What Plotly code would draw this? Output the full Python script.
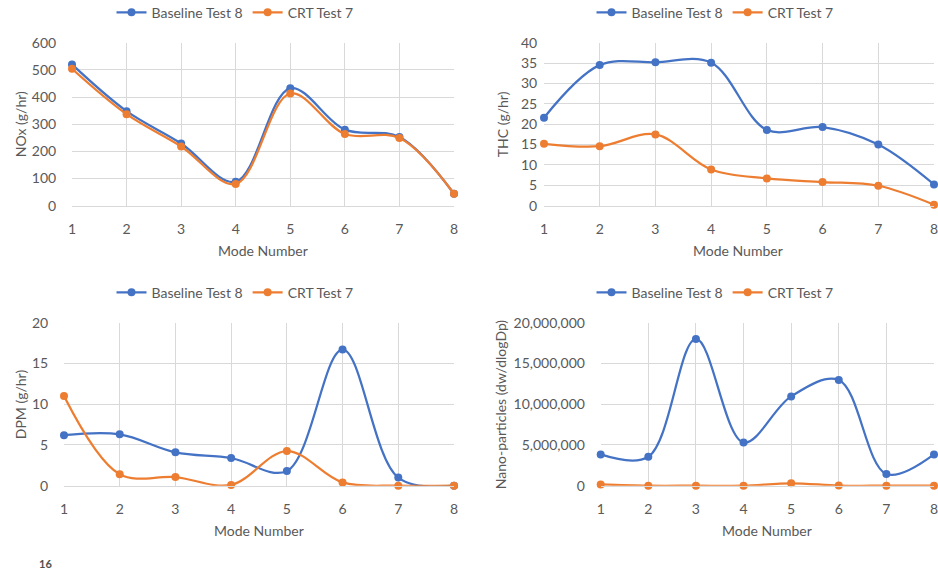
import plotly.graph_objects as go

modes = [1, 2, 3, 4, 5, 6, 7, 8]

nox_baseline = [520, 348, 229, 88, 432, 280, 253, 44]
nox_crt = [504, 337, 218, 80, 413, 264, 249, 44]

thc_baseline = [21.6, 34.5, 35.2, 35.1, 18.6, 19.3, 15.0, 5.2]
thc_crt = [15.2, 14.6, 17.5, 8.9, 6.7, 5.8, 4.9, 0.25]

dpm_baseline = [6.2, 6.3, 4.1, 3.4, 1.8, 16.7, 1.0, 0.0]
dpm_crt = [11.0, 1.4, 1.06, 0.1, 4.25, 0.4, 0.0, 0.0]

nano_baseline = [3840000, 3560000, 18000000, 5300000, 10960000, 12970000, 1430000, 3840000]
nano_crt = [150000, 0, 0, 0, 300000, 20000, 0, 0]

series_names = ["Baseline Test 8", "CRT Test 7"]
colors = ["#4472C4", "#ED7D31"]

FONT = "Lato"
GREY = "#595959"
GRID = "#D9D9D9"
W, H = 938, 584

# pixel boxes of each plot area: (left, right, top, bottom)
panels = [
    dict(box=(72, 454, 42.7, 205.7), data=(nox_baseline, nox_crt), yr=[0, 600], dt=100,
         fmt="", ytitle="NOx (g/hr)", ytx=20, xtx=263, xty=250, leg=(235, 12.7), ylen=12),
    dict(box=(544, 934, 42.7, 205.7), data=(thc_baseline, thc_crt), yr=[0, 40], dt=5,
         fmt="", ytitle="THC (g/hr)", ytx=502, xtx=738, xty=250, leg=(715, 12.7), ylen=3),
    dict(box=(64, 454, 322.7, 485.7), data=(dpm_baseline, dpm_crt), yr=[0, 20], dt=5,
         fmt="", ytitle="DPM (g/hr)", ytx=20, xtx=259, xty=530, leg=(235, 292.7), ylen=12),
    dict(box=(600.7, 934, 322.7, 485.7), data=(nano_baseline, nano_crt), yr=[0, 20000000],
         dt=5000000, fmt=",", ytitle="Nano-particles (dw/dlogDp)", ytx=500, xtx=767,
         xty=530, leg=(715, 292.7), ylen=12),
]

fig = go.Figure()
annotations = []

for i, p in enumerate(panels):
    n = "" if i == 0 else str(i + 1)
    xa, ya = "x" + n, "y" + n
    leg = "legend" + n
    for name, vals, col in zip(series_names, p["data"], colors):
        fig.add_trace(go.Scatter(
            x=modes, y=vals, name=name, mode="lines+markers",
            line=dict(color=col, width=2.25, shape="spline", smoothing=1.0),
            marker=dict(color=col, size=8),
            xaxis=xa, yaxis=ya, legend=leg, cliponaxis=False,
        ))
    l, r, t, b = p["box"]
    fig.layout["xaxis" + n] = dict(
        domain=[l / W, r / W], anchor=ya, range=[1, 8], dtick=1, tick0=1,
        showgrid=True, gridcolor=GRID, gridwidth=1, zeroline=False,
        showline=True, linecolor=GRID, linewidth=1, automargin=False,
        ticklabeloverflow="allow",
        ticks="outside", ticklen=10, tickcolor="rgba(0,0,0,0)",
        tickfont=dict(family=FONT, size=14, color=GREY),
    )
    fig.layout["yaxis" + n] = dict(
        domain=[1 - b / H, 1 - t / H], anchor=xa, range=p["yr"], dtick=p["dt"], tick0=0,
        tickformat=p["fmt"], showgrid=True, gridcolor=GRID, gridwidth=1, zeroline=False,
        showline=False, automargin=False, ticklabeloverflow="allow",
        ticks="outside", ticklen=p["ylen"], tickcolor="rgba(0,0,0,0)",
        tickfont=dict(family=FONT, size=14, color=GREY),
    )
    fig.layout[leg] = dict(
        orientation="h", x=p["leg"][0] / W, y=1 - p["leg"][1] / H,
        xanchor="center", yanchor="middle", bgcolor="rgba(0,0,0,0)",
        font=dict(family=FONT, size=14, color=GREY), itemwidth=30,
    )
    annotations.append(dict(
        text=p["ytitle"], x=p["ytx"] / W, y=1 - ((t + b) / 2) / H, xref="paper", yref="paper",
        textangle=-90, showarrow=False, xanchor="center", yanchor="middle",
        font=dict(family=FONT, size=14, color=GREY),
    ))
    annotations.append(dict(
        text="Mode Number", x=p["xtx"] / W, y=1 - p["xty"] / H, xref="paper", yref="paper",
        showarrow=False, xanchor="center", yanchor="middle",
        font=dict(family=FONT, size=14, color=GREY),
    ))

# page number
annotations.append(dict(
    text="<b>16</b>", x=45 / W, y=1 - 563 / H, xref="paper", yref="paper",
    showarrow=False, xanchor="center", yanchor="middle",
    font=dict(family=FONT, size=11, color="#505050"),
))

fig.update_layout(
    width=W, height=H, margin=dict(l=0, r=0, t=0, b=0, autoexpand=False),
    paper_bgcolor="white", plot_bgcolor="white",
    annotations=annotations,
)

fig.write_html("out.html")
